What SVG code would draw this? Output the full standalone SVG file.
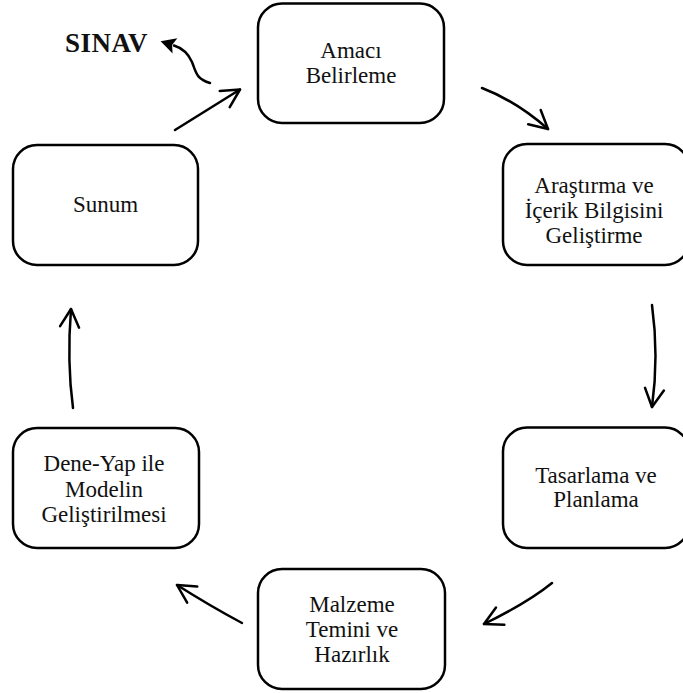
<svg xmlns="http://www.w3.org/2000/svg" width="683" height="693" viewBox="0 0 683 693">
<defs>
<style>
.box{fill:#fff;stroke:#000;stroke-width:2.5}
.c{fill:none;stroke:#000;stroke-width:2.5;stroke-linecap:round}
</style>
<marker id="v" markerUnits="userSpaceOnUse" markerWidth="22" markerHeight="22" refX="18" refY="10" orient="auto" overflow="visible">
<path d="M0,0.5 L18,10 L0,19.5" fill="none" stroke="#000" stroke-width="2.5" stroke-linecap="round" stroke-linejoin="round"/>
</marker>
<marker id="f" markerUnits="userSpaceOnUse" markerWidth="18" markerHeight="18" refX="1" refY="8" orient="auto" overflow="visible">
<path d="M0,0 L15,8 L0,16 L3,8 z" fill="#000"/>
</marker>
</defs>
<rect width="683" height="693" fill="#fff"/>
<g id="connectors">
<path class="c" d="M175,130 L240,89.5" marker-end="url(#v)"/>
<path class="c" d="M482,88 Q516,101 548,129" marker-end="url(#v)"/>
<path class="c" d="M652,305 Q659,356 652,407" marker-end="url(#v)"/>
<path class="c" d="M552,583 Q528,602.5 484,624" marker-end="url(#v)"/>
<path class="c" d="M242,623 Q210.7,606.3 177,585" marker-end="url(#v)"/>
<path class="c" d="M73,408 Q66.8,361.7 71,309" marker-end="url(#v)"/>
<path class="c" d="M210,83 C196,79 196,72 192,62 C188,53 182,48 174,45.5" marker-end="url(#f)"/>
</g>
<g id="sinav">
<text x="65" y="52" font-family="Liberation Serif, serif" font-size="27" font-weight="bold" letter-spacing="0.5" fill="#111">SINAV</text>
</g>
<g id="amaci" font-family="Liberation Serif, serif" font-size="23" fill="#111" text-anchor="middle">
<rect class="box" x="258" y="3.5" width="186" height="119.5" rx="24"/>
<text x="351" y="58" font-family="Liberation Serif, serif" font-size="23">Amacı</text>
<text x="351" y="83" font-family="Liberation Serif, serif" font-size="23">Belirleme</text>
</g>
<g id="arastirma" font-family="Liberation Serif, serif" font-size="23" fill="#111" text-anchor="middle">
<rect class="box" x="503" y="144" width="186" height="121" rx="24"/>
<text x="594" y="193" font-family="Liberation Serif, serif" font-size="23">Araştırma ve</text>
<text x="594" y="218" font-family="Liberation Serif, serif" font-size="23">İçerik Bilgisini</text>
<text x="594" y="243" font-family="Liberation Serif, serif" font-size="23">Geliştirme</text>
</g>
<g id="tasarlama" font-family="Liberation Serif, serif" font-size="23" fill="#111" text-anchor="middle">
<rect class="box" x="503" y="427.5" width="186" height="120.5" rx="24"/>
<text x="596" y="483" font-family="Liberation Serif, serif" font-size="23">Tasarlama ve</text>
<text x="596" y="507" font-family="Liberation Serif, serif" font-size="23">Planlama</text>
</g>
<g id="malzeme" font-family="Liberation Serif, serif" font-size="23" fill="#111" text-anchor="middle">
<rect class="box" x="258" y="569" width="187" height="120" rx="24"/>
<text x="352" y="612" font-family="Liberation Serif, serif" font-size="23">Malzeme</text>
<text x="352" y="637" font-family="Liberation Serif, serif" font-size="23">Temini ve</text>
<text x="352" y="662" font-family="Liberation Serif, serif" font-size="23">Hazırlık</text>
</g>
<g id="deneyap" font-family="Liberation Serif, serif" font-size="23" fill="#111" text-anchor="middle">
<rect class="box" x="13" y="428" width="186" height="120" rx="24"/>
<text x="104" y="471" font-family="Liberation Serif, serif" font-size="23">Dene-Yap ile</text>
<text x="104" y="496.5" font-family="Liberation Serif, serif" font-size="23">Modelin</text>
<text x="104" y="521.5" font-family="Liberation Serif, serif" font-size="23">Geliştirilmesi</text>
</g>
<g id="sunum" font-family="Liberation Serif, serif" font-size="23" fill="#111" text-anchor="middle">
<rect class="box" x="13" y="145" width="185" height="120" rx="24"/>
<text x="105.5" y="212" font-family="Liberation Serif, serif" font-size="23">Sunum</text>
</g>
</svg>
